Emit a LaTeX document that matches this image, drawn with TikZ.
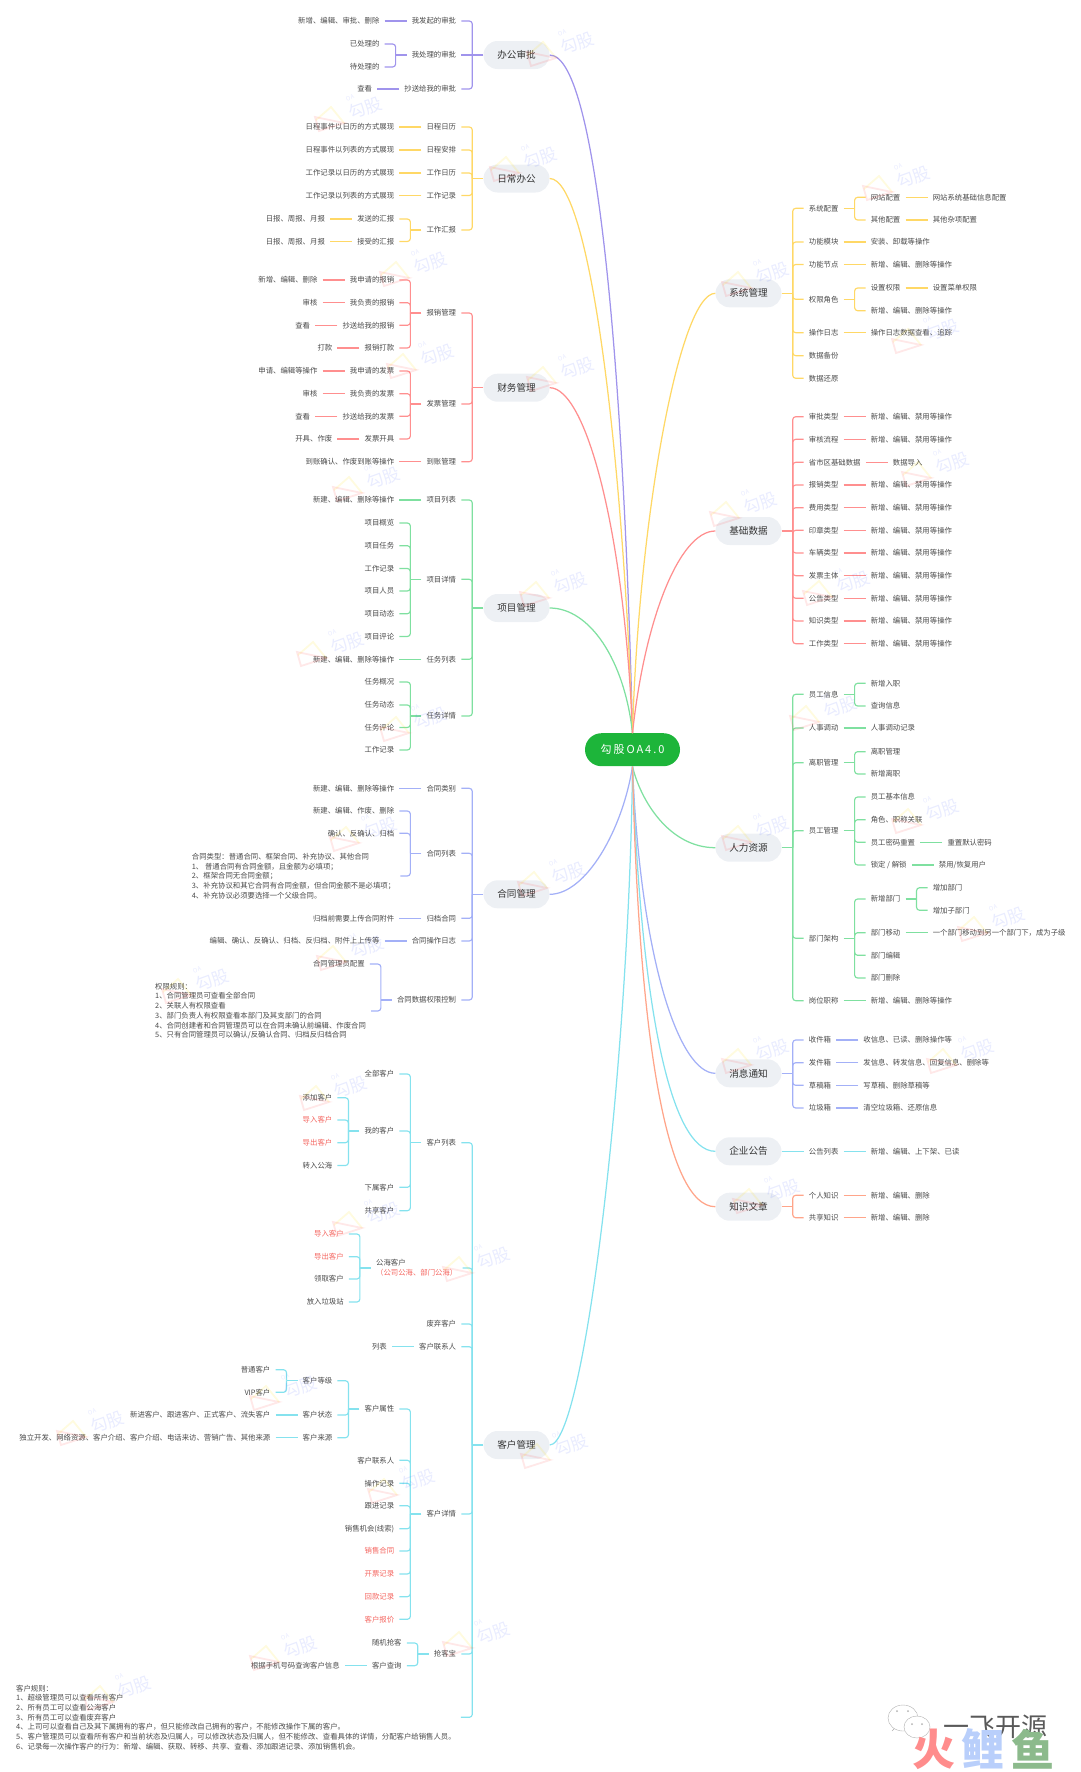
\documentclass[tikz,border=0pt]{standalone}
\usepackage{fontspec}
\setmainfont{Noto Sans CJK SC}
\definecolor{purp}{HTML}{A094EC}
\definecolor{yell}{HTML}{FFD866}
\definecolor{redl}{HTML}{FF8F8F}
\definecolor{gren}{HTML}{7FE0A0}
\definecolor{blul}{HTML}{A3B0F7}
\definecolor{cyan}{HTML}{85E2EE}
\definecolor{orng}{HTML}{FFA58A}
\definecolor{hot}{HTML}{F4655F}
\definecolor{txt}{HTML}{4A4A4A}
\definecolor{boxfill}{HTML}{EDF0F4}
\definecolor{oagreen}{HTML}{1DB53A}
\newcommand{\elbow}[3]{
\path (#2); \pgfgetlastxy{\ax}{\ay}
\path (#3); \pgfgetlastxy{\bx}{\by}
\pgfmathparse{abs(\ay-\by)}
\ifdim\pgfmathresult pt<0.5pt
\draw[link,#1,rounded corners=0pt] (#2) -- (#3);
\else
\draw[link,#1] (#2) -| (#3);
\fi
}
\newcommand{\lkids}[3]{
\coordinate (#2-j) at ([xshift=-11pt]#2.west);
\draw[link,#1] (#2.west) -- (#2-j);
\foreach \nm/\yy/\tx in {#3} {
\node[item,anchor=east,xshift=-22pt] (\nm) at (#2.west |- 0,\yy) {\tx};
\elbow{#1}{\nm.east}{#2-j}
}
}
\newcommand{\rkids}[3]{
\coordinate (#2-j) at ([xshift=11pt]#2.east);
\draw[link,#1] (#2.east) -- (#2-j);
\foreach \nm/\yy/\tx in {#3} {
\node[item,anchor=west,xshift=22pt] (\nm) at (#2.east |- 0,\yy) {\tx};
\elbow{#1}{\nm.west}{#2-j}
}
}
\begin{document}
\begin{tikzpicture}[x=1pt,y=-1pt,
  item/.style={inner xsep=5pt,inner ysep=1pt,text=txt,font=\fontsize{7.38}{9.7}\selectfont},
  note/.style={item,align=left,anchor=west},
  bigbox/.style={fill=boxfill,rounded corners=14pt,minimum width=66pt,minimum height=28pt,inner sep=0pt,text=black!80,font=\fontsize{9.6}{12}\selectfont},
  link/.style={line width=1.15pt,rounded corners=3pt},
  curve/.style={line width=1.25pt},
  wmtext/.style={text=blue!70!cyan,opacity=.1,rotate=20,font=\fontsize{17}{17}\selectfont},
  wmoa/.style={wmtext,font=\fontsize{6}{6}\selectfont},
  wmtri/.style={line width=1.8pt,opacity=.13},
  ]
\useasboundingbox (0,0) rectangle (1080,1772);

\node[fill=oagreen,rounded corners=16.5pt,minimum width=95pt,minimum height=33pt,inner sep=0pt,text=white,font=\fontsize{11}{13}\selectfont\addfontfeature{LetterSpace=18}] (oa) at (632.5,749.7) {勾股OA4.0};

\node[bigbox] (bg) at (516.5,55) {办公审批};
\node[bigbox] (rc) at (516.5,178.5) {日常办公};
\node[bigbox] (cw) at (516.5,387.7) {财务管理};
\node[bigbox] (xm) at (516.5,608) {项目管理};
\node[bigbox] (ht) at (516.5,894.3) {合同管理};
\node[bigbox] (kh) at (516.5,1445) {客户管理};
\node[bigbox] (xt) at (748.5,293.3) {系统管理};
\node[bigbox] (jc) at (748.5,531) {基础数据};
\node[bigbox] (rl) at (748.5,847.7) {人力资源};
\node[bigbox] (xx) at (748.5,1073.3) {消息通知};
\node[bigbox] (gg) at (748.5,1151.3) {企业公告};
\node[bigbox] (zs) at (748.5,1206.7) {知识文章};

\draw[curve,purp] (bg.east) .. controls +(50,0) and +(-8,-330) .. (oa.north);
\draw[curve,yell] (rc.east) .. controls +(40,0) and +(-10,-283) .. (oa.north);
\draw[curve,redl] (cw.east) .. controls +(36,0) and +(-8,-203) .. (oa.north);
\draw[curve,gren] (xm.east) .. controls +(40,0) and +(-8,-73) .. (oa.north);
\draw[curve,blul] (ht.east) .. controls +(36,0) and +(-10,64) .. (oa.south);
\draw[curve,cyan] (kh.east) .. controls +(36,0) and +(-3,284) .. (oa.south);
\draw[curve,yell] (xt.west) .. controls +(-36,0) and +(6,-213) .. (oa.north);
\draw[curve,redl] (jc.west) .. controls +(-36,0) and +(12,-113) .. (oa.north);
\draw[curve,gren] (rl.west) .. controls +(-46,0) and +(8,34) .. (oa.south);
\draw[curve,blul] (xx.west) .. controls +(-36,0) and +(8,194) .. (oa.south);
\draw[curve,cyan] (gg.west) .. controls +(-46,0) and +(8,234) .. (oa.south);
\draw[curve,orng] (zs.west) .. controls +(-50,0) and +(6,264) .. (oa.south);

\lkids{purp}{bg}{bg1/21/我发起的审批,bg2/55/我处理的审批,bg3/89/抄送给我的审批}
\lkids{purp}{bg1}{bg11/21/新增、编辑、审批、删除}
\lkids{purp}{bg2}{bg21/44/已处理的,bg22/67/待处理的}
\lkids{purp}{bg3}{bg31/89/查看}

\lkids{yell}{rc}{rc1/127/日程日历,rc2/150/日程安排,rc3/173/工作日历,rc4/195.5/工作记录,rc5/230/工作汇报}
\lkids{yell}{rc1}{rc11/127/日程事件以日历的方式展现}
\lkids{yell}{rc2}{rc21/150/日程事件以列表的方式展现}
\lkids{yell}{rc3}{rc31/173/工作记录以日历的方式展现}
\lkids{yell}{rc4}{rc41/195.5/工作记录以列表的方式展现}
\lkids{yell}{rc5}{rc51/219/发送的汇报,rc52/241.5/接受的汇报}
\lkids{yell}{rc51}{rc511/219/日报、周报、月报}
\lkids{yell}{rc52}{rc521/241.5/日报、周报、月报}

\lkids{redl}{cw}{cw1/313/报销管理,cw2/404/发票管理,cw3/461.7/到账管理}
\lkids{redl}{cw1}{cw11/280/我申请的报销,cw12/302.7/我负责的报销,cw13/325.3/抄送给我的报销,cw14/348/报销打款}
\lkids{redl}{cw11}{cw111/280/新增、编辑、删除}
\lkids{redl}{cw12}{cw121/302.7/审核}
\lkids{redl}{cw13}{cw131/325.3/查看}
\lkids{redl}{cw14}{cw141/348/打款}
\lkids{redl}{cw2}{cw21/371/我申请的发票,cw22/393.7/我负责的发票,cw23/416.3/抄送给我的发票,cw24/439/发票开具}
\lkids{redl}{cw21}{cw211/371/申请、编辑等操作}
\lkids{redl}{cw22}{cw221/393.7/审核}
\lkids{redl}{cw23}{cw231/416.3/查看}
\lkids{redl}{cw24}{cw241/439/开具、作废}
\lkids{redl}{cw3}{cw31/461.7/到账确认、作废到账等操作}

\lkids{gren}{xm}{xm1/500/项目列表,xm2/579.3/项目详情,xm3/659.3/任务列表,xm4/716/任务详情}
\lkids{gren}{xm1}{xm11/500/新建、编辑、删除等操作}
\lkids{gren}{xm2}{xm21/523/项目概览,xm22/545.7/项目任务,xm23/568.5/工作记录,xm24/591/项目人员,xm25/613.7/项目动态,xm26/636.5/项目评论}
\lkids{gren}{xm3}{xm31/659.3/新建、编辑、删除等操作}
\lkids{gren}{xm4}{xm41/682/任务概况,xm42/705/任务动态,xm43/727.5/任务评论,xm44/750/工作记录}

\lkids{blul}{ht}{ht1/788.3/合同类别,ht2/853.3/合同列表,ht3/918.3/归档合同,ht4/941/合同操作日志,ht5/1000/合同数据权限控制}
\lkids{blul}{ht1}{ht11/788.3/新建、编辑、删除等操作}
\lkids{blul}{ht2}{ht21/811/新建、编辑、作废、删除,ht22/833.3/确认、反确认、归档}
\node[note] (ht23) at (186.7,876) {合同类型：普通合同、框架合同、补充协议、其他合同\\1、 普通合同有合同金额，且金额为必填项；\\2、框架合同无合同金额；\\3、补充协议和其它合同有合同金额，但合同金额不是必填项；\\4、补充协议必须要选择一个父级合同。};
\draw[link,blul] (ht23.east) -| (ht2-j);
\lkids{blul}{ht3}{ht31/918.3/归档前需要上传合同附件}
\lkids{blul}{ht4}{ht41/941/编辑、确认、反确认、归档、反归档、附件上上传等}
\lkids{blul}{ht5}{ht51/964/合同管理员配置}
\node[note] (ht52) at (150,1011) {权限规则：\\1、合同管理员可查看全部合同\\2、关联人有权限查看\\3、部门负责人有权限查看本部门及其支部门的合同\\4、合同创建者和合同管理员可以在合同未确认前编辑、作废合同\\5、只有合同管理员可以确认/反确认合同、归档反归档合同};
\draw[link,blul] (ht52.east) -| (ht5-j);

\lkids{cyan}{kh}{kh1/1142.7/客户列表,kh3/1324/废弃客户,kh4/1346.7/客户联系人,kh5/1514/客户详情,kh6/1654/抢客宝}
\node[note,anchor=east] (kh2) at (462.5,1268) {公海客户\\{\color{hot}（公司公海、部门公海）}};
\draw[link,cyan] (kh2.east) -| (kh-j);
\node[note] (kh7) at (11,1717.3) {客户规则：\\1、超级管理员可以查看所有客户\\2、所有员工可以查看公海客户\\3、所有员工可以查看废弃客户\\4、上司可以查看自己及其下属拥有的客户，但只能修改自己拥有的客户，不能修改操作下属的客户。\\5、客户管理员可以查看所有客户和当前状态及归属人，可以修改状态及归属人，但不能修改、查看具体的详情，分配客户给销售人员。\\6、记录每一次操作客户的行为：新增、编辑、获取、转移、共享、查看、添加跟进记录、添加销售机会。};
\draw[link,cyan] (kh7.east) -| (kh-j);
\lkids{cyan}{kh1}{kh11/1074/全部客户,kh12/1131/我的客户,kh13/1187.3/下属客户,kh14/1210.7/共享客户}
\lkids{cyan}{kh12}{kh121/1097.7/添加客户,kh122/1120/{\color{hot}导入客户},kh123/1142.7/{\color{hot}导出客户},kh124/1165.5/转入公海}
\lkids{cyan}{kh2}{kh21/1234/{\color{hot}导入客户},kh22/1256.7/{\color{hot}导出客户},kh23/1279/领取客户,kh24/1302/放入垃圾站}
\lkids{cyan}{kh4}{kh41/1346.7/列表}
\lkids{cyan}{kh5}{kh51/1409/客户属性,kh52/1460.3/客户联系人,kh53/1483.3/操作记录,kh54/1505.7/跟进记录,kh55/1528.7/销售机会(线索),kh56/1551/{\color{hot}销售合同},kh57/1574/{\color{hot}开票记录},kh58/1596.7/{\color{hot}回款记录},kh59/1619.3/{\color{hot}客户报价}}
\lkids{cyan}{kh51}{kh511/1380.7/客户等级,kh512/1415/客户状态,kh513/1437.7/客户来源}
\lkids{cyan}{kh511}{kh5111/1369.7/普通客户,kh5112/1392.3/VIP客户}
\lkids{cyan}{kh512}{kh5121/1415/新进客户、跟进客户、正式客户、流失客户}
\lkids{cyan}{kh513}{kh5131/1437.7/独立开发、网络资源、客户介绍、客户介绍、电话来访、营销广告、其他来源}
\lkids{cyan}{kh6}{kh61/1643/随机抢客,kh62/1665.7/客户查询}
\lkids{cyan}{kh62}{kh621/1665.7/根据手机号码查询客户信息}

\rkids{yell}{xt}{xt1/208.3/系统配置,xt2/242/功能模块,xt3/264.5/功能节点,xt4/299.3/权限角色,xt5/332.7/操作日志,xt6/355.7/数据备份,xt7/378.3/数据还原}
\rkids{yell}{xt1}{xt11/197.3/网站配置,xt12/220/其他配置}
\rkids{yell}{xt11}{xt111/197.3/网站系统基础信息配置}
\rkids{yell}{xt12}{xt121/220/其他杂项配置}
\rkids{yell}{xt2}{xt21/242/安装、卸载等操作}
\rkids{yell}{xt3}{xt31/264.5/新增、编辑、删除等操作}
\rkids{yell}{xt4}{xt41/288/设置权限,xt42/310.7/新增、编辑、删除等操作}
\rkids{yell}{xt41}{xt411/288/设置菜单权限}
\rkids{yell}{xt5}{xt51/332.7/操作日志数据查看、追踪}

\rkids{redl}{jc}{jc1/416.7/审批类型,jc2/439.3/审核流程,jc3/462.3/省市区基础数据,jc4/485/报销类型,jc5/507.7/费用类型,jc6/530.3/印章类型,jc7/553/车辆类型,jc8/575.7/发票主体,jc9/598.3/公告类型,jc10/621/知识类型,jc11/643.7/工作类型}
\foreach \jn/\jy in {jc1/416.7,jc2/439.3,jc4/485,jc5/507.7,jc6/530.3,jc7/553,jc8/575.7,jc9/598.3,jc10/621,jc11/643.7} {
  \rkids{redl}{\jn}{\jn-x/\jy/新增、编辑、禁用等操作}
}
\rkids{redl}{jc3}{jc31/462.3/数据导入}

\rkids{gren}{rl}{rl1/694.3/员工信息,rl2/728/人事调动,rl3/762.7/离职管理,rl4/830.7/员工管理,rl5/938.3/部门架构,rl6/1000.7/岗位职称}
\rkids{gren}{rl1}{rl11/683.3/新增入职,rl12/706/查询信息}
\rkids{gren}{rl2}{rl21/728/人事调动记录}
\rkids{gren}{rl3}{rl31/751.7/离职管理,rl32/774/新增离职}
\rkids{gren}{rl4}{rl41/797/员工基本信息,rl42/819.7/角色、职称关联,rl43/842.3/员工密码重置,rl44/865/{锁定 / 解锁}}
\rkids{gren}{rl43}{rl431/842.3/重置默认密码}
\rkids{gren}{rl44}{rl441/865/{禁用/恢复用户}}
\rkids{gren}{rl5}{rl51/899/新增部门,rl52/932.7/部门移动,rl53/955.3/部门编辑,rl54/978/部门删除}
\rkids{gren}{rl51}{rl511/887.7/增加部门,rl512/910.3/增加子部门}
\rkids{gren}{rl52}{rl521/932.7/一个部门移动到另一个部门下，成为子级}
\rkids{gren}{rl6}{rl61/1000.7/新增、编辑、删除等操作}

\rkids{blul}{xx}{xx1/1040/收件箱,xx2/1062.7/发件箱,xx3/1085.3/草稿箱,xx4/1108/垃圾箱}
\rkids{blul}{xx1}{xx11/1040/收信息、已读、删除操作等}
\rkids{blul}{xx2}{xx21/1062.7/发信息、转发信息、回复信息、删除等}
\rkids{blul}{xx3}{xx31/1085.3/写草稿、删除草稿等}
\rkids{blul}{xx4}{xx41/1108/清空垃圾箱、还原信息}

\rkids{cyan}{gg}{gg1/1151.3/公告列表}
\rkids{cyan}{gg1}{gg11/1151.3/新增、编辑、上下架、已读}

\rkids{orng}{zs}{zs1/1195.3/个人知识,zs2/1217.7/共享知识}
\rkids{orng}{zs1}{zs11/1195.3/新增、编辑、删除}
\rkids{orng}{zs2}{zs21/1217.7/新增、编辑、删除}

\foreach \wx/\wy [count=\i] in {577/43,365/108,540/158,430/263,437/355,577/368,383/478,570/583,347/643,430/718,380/828,568/873,367/947,212/980,350/1087,383/1213,493/1258,107/1422,300/1387,418/1480,571/1445,300/1647,493/1633,134/1687,913/177,772/273,942/330,952/463,760/503,853/582,840/707,772/827,942/810,1008/918,772/1050,977/1050,783/1190} {
  \node[wmtext] (wm\i) at (\wx,\wy) {勾股};
  \node[wmoa] (wo\i) at ([xshift=-15pt,yshift=10pt]wm\i.center) {OA};
  \begin{scope}[shift={(\wx-35,\wy+12)}]
    \draw[wmtri,yellow!80!orange] (-14,0) -- (1,-13) -- (14,3);
    \draw[wmtri,red!70] (-15,-3) -- (-11,11) -- (14,3) -- cycle;
  \end{scope}
}

\draw[gray!60,fill=white] (892,1731) -- (896,1727) -- (903,1718) -- cycle;
\draw[gray!60,fill=white] (903,1718) ellipse (15 and 13);
\draw[gray!60,fill=white] (917,1727) ellipse (13 and 11);
\fill[gray!60] (897,1711) circle (1) (908,1711) circle (1) (912,1724) circle (1) (922,1724) circle (1);
\node[text=black!65,font=\fontsize{26}{26}\selectfont] (yf) at (995,1727) {一飞开源};
\node[text=red!45,font=\fontsize{43}{43}\selectfont\bfseries] (huo) at (934,1749) {火};
\node[text=blue!40!cyan!40,font=\fontsize{43}{43}\selectfont\bfseries] (li) at (983,1749) {鲤};
\node[text=green!40!black!45,font=\fontsize{43}{43}\selectfont\bfseries] (yu) at (1033,1749) {鱼};

\end{tikzpicture}
\end{document}
